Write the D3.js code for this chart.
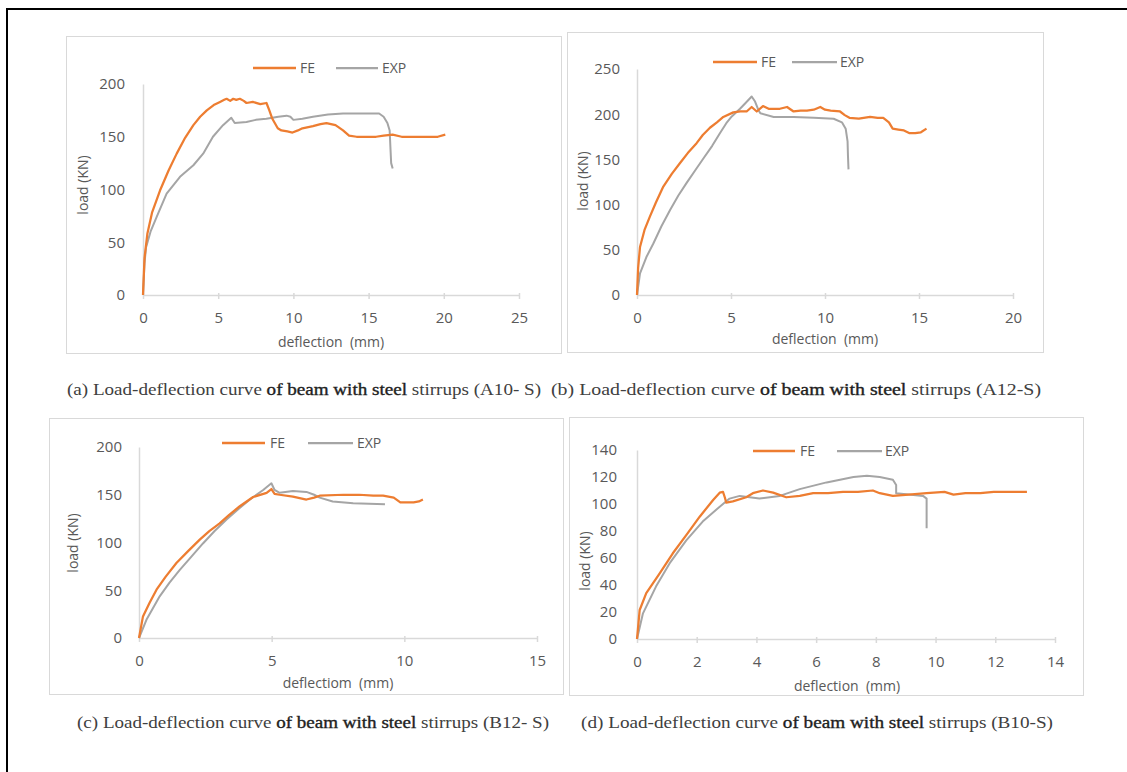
<!DOCTYPE html>
<html>
<head>
<meta charset="utf-8">
<script src="https://cdn.jsdelivr.net/npm/d3@7"></script>
<style>
  html, body { margin: 0; padding: 0; background: #fff; }
  svg { display: block; }
</style>
</head>
<body>
<svg id="fig" width="1127" height="772"></svg>
<script>
// Load-deflection data, [deflection (mm), load (kN)]
const feA = [[0,0],[0.1,35],[0.29,58],[0.6,78],[1.13,99],[1.7,118],[2.24,134],[2.8,149],[3.35,161],[3.8,169],[4.24,175],[4.7,180],[5.12,183],[5.4,185],[5.56,186],[5.8,184],[6.0,186],[6.2,185],[6.44,186],[6.7,184],[6.88,182],[7.3,183],[7.8,181],[8.21,182],[8.4,175],[8.6,167],[8.96,158],[9.2,156],[9.6,155],[9.94,154],[10.3,156],[10.6,158],[11.3,160],[11.8,162],[12.2,163],[12.8,161],[13.3,156],[13.7,151],[14.2,150],[14.8,150],[15.5,150],[16.0,151],[16.6,152],[17.2,150],[17.7,150],[18.8,150],[19.6,150],[20.1,152]];
const expA = [[0,0],[0.1,30],[0.2,45],[0.5,60],[0.91,74],[1.57,96],[2.46,112],[3.35,123],[4.0,134],[4.65,150],[5.32,161],[5.87,168],[6.1,163],[6.88,164],[7.5,166],[8.2,167],[9.0,169],[9.55,170],[9.8,169],[10.0,166],[10.6,167],[11.3,169],[12.3,171],[13.3,172],[14.5,172],[15.7,172],[16.0,169],[16.25,163],[16.4,156],[16.45,140],[16.5,125],[16.6,120]];

const feB = [[0,0],[0.06,30],[0.16,53],[0.4,72],[0.69,87],[1.0,102],[1.4,120],[1.85,134],[2.29,146],[2.7,157],[3.17,168],[3.5,177],[3.88,185],[4.25,191],[4.59,197],[5.12,202],[5.5,203],[5.83,203],[6.1,208],[6.37,203],[6.7,209],[7.0,206],[7.27,206],[7.6,206],[7.98,208],[8.33,203],[8.7,204],[9.04,204],[9.4,205],[9.75,208],[10.0,205],[10.3,204],[10.8,203],[11.05,199],[11.3,196],[11.8,195],[12.4,197],[12.8,196],[13.1,196],[13.4,191],[13.6,184],[13.9,183],[14.2,182],[14.5,179],[14.8,179],[15.1,180],[15.4,184]];
const expB = [[0,0],[0.16,24],[0.5,42],[0.87,57],[1.3,76],[1.76,94],[2.2,110],[2.64,124],[3.1,138],[3.53,151],[4.0,165],[4.41,179],[4.75,190],[5.04,197.5],[5.48,206],[5.8,213],[6.1,219.6],[6.28,214],[6.45,205],[6.56,201],[7.27,197],[8.33,197],[9.4,196],[10.46,195],[10.9,191],[11.1,184],[11.2,170],[11.22,155],[11.25,139]];

const feC = [[0,0],[0.15,22.6],[0.4,37],[0.66,50.6],[1.0,64],[1.41,78.5],[1.85,91],[2.29,103],[2.65,112],[3.04,120],[3.4,129],[3.8,138],[4.3,147.6],[4.81,152],[4.99,156],[5.11,151],[5.3,150],[5.8,148],[6.31,145],[6.6,147],[6.81,149],[7.7,150],[8.3,150],[8.83,149],[9.2,149],[9.6,147],[9.85,142],[10.35,142],[10.55,143],[10.7,145]];
const expC = [[0,0],[0.28,19],[0.78,43.6],[1.15,58],[1.53,71],[2.0,86],[2.41,99],[2.85,112],[3.3,124],[3.75,135],[4.18,145],[4.68,155],[4.99,162],[5.11,155],[5.3,152],[5.8,154],[6.31,153],[6.6,150],[6.81,147],[7.3,143],[8.07,141],[9.27,140]];

const feD = [[0,0],[0.09,21.5],[0.31,34],[0.76,48.6],[1.2,63.5],[1.65,77],[2.1,90.6],[2.55,103],[2.77,108.4],[2.88,109],[2.94,105],[2.99,101],[3.21,102],[3.66,105],[3.88,108],[4.22,110],[4.56,108.4],[5.0,105],[5.45,106],[5.9,108],[6.4,108],[6.9,109],[7.4,109],[7.9,110],[8.13,108],[8.57,106],[9.1,107],[9.7,108],[10.3,109],[10.6,107],[11.0,108],[11.5,108],[11.95,109],[12.5,109],[13.06,109]];
const expD = [[0,0],[0.2,19],[0.64,39],[1.09,56],[1.65,73],[2.2,87],[2.77,98],[3.1,104],[3.44,106],[4.1,104],[4.78,106],[5.45,111],[6.35,116],[7.25,120],[7.7,121],[8.13,120],[8.57,118],[8.68,114],[8.68,108],[9.1,107],[9.58,106],[9.7,104],[9.7,82]];

// Axis ticks
const ticksYA = [0, 50, 100, 150, 200];
const ticksXA = [0, 5, 10, 15, 20, 25];
const ticksYB = [0, 50, 100, 150, 200, 250];
const ticksXB = [0, 5, 10, 15, 20];
const ticksYC = [0, 50, 100, 150, 200];
const ticksXC = [0, 5, 10, 15];
const ticksYD = [0, 20, 40, 60, 80, 100, 120, 140];
const ticksXD = [0, 2, 4, 6, 8, 10, 12, 14];

// Labels
const seriesNames = ["FE", "EXP"];
const xTitles = ["deflection  (mm)", "deflection  (mm)", "deflectiom  (mm)", "deflection  (mm)"];
const yTitle = "load (KN)";
const captionHead = ["(a) Load-deflection curve ", "(b) Load-deflection curve ", "(c) Load-deflection curve ", "(d) Load-deflection curve "];
const captionMid = "of beam with steel";
const captionTail = [" stirrups (A10- S)", " stirrups (A12-S)", " stirrups (B12- S)", " stirrups (B10-S)"];

const FE_COLOR = "#ed7d31";
const EXP_COLOR = "#a5a5a5";
const AXIS_COLOR = "#d9d9d9";
const LABEL_COLOR = "#595959";

const svg = d3.select("#fig");

// outer frame
svg.append("rect")
  .attr("x", 7).attr("y", 9).attr("width", 1140).attr("height", 800)
  .attr("fill", "none").attr("stroke", "#000").attr("stroke-width", 2);

const panels = [
  { box: [66, 36, 495, 317], plot: [143, 519, 295, 84], xd: [0, 25], yd: [0, 200],
    xt: ticksXA, yt: ticksYA, fe: feA, exp: expA,
    legend: { fe: [253, 296], feT: 300, exp: [336, 378], expT: 382, y: 68 },
    xTitle: { x: 331, y: 342 }, yTitle: { x: 83, y: 185 }, cap: { x: 67, y: 389, w: 474 } },
  { box: [567, 32, 476, 320], plot: [637, 1013, 295, 69], xd: [0, 20], yd: [0, 250],
    xt: ticksXB, yt: ticksYB, fe: feB, exp: expB,
    legend: { fe: [713, 757], feT: 761, exp: [792, 837], expT: 840, y: 62 },
    xTitle: { x: 825, y: 339 }, yTitle: { x: 583, y: 181 }, cap: { x: 551, y: 389, w: 490 } },
  { box: [49, 418, 514, 276], plot: [139, 537, 638, 447], xd: [0, 15], yd: [0, 200],
    xt: ticksXC, yt: ticksYC, fe: feC, exp: expC,
    legend: { fe: [222, 265], feT: 270, exp: [308, 353], expT: 357, y: 443 },
    xTitle: { x: 338, y: 683 }, yTitle: { x: 73, y: 543 }, cap: { x: 77, y: 722, w: 472 } },
  { box: [569, 417, 514, 278], plot: [637, 1055, 639, 450], xd: [0, 14], yd: [0, 140],
    xt: ticksXD, yt: ticksYD, fe: feD, exp: expD,
    legend: { fe: [753, 795], feT: 800, exp: [837, 882], expT: 885, y: 451 },
    xTitle: { x: 847, y: 686 }, yTitle: { x: 585, y: 561 }, cap: { x: 581, y: 722, w: 472 } }
];

panels.forEach((p, i) => {
  const g = svg.append("g");

  // panel border
  g.append("rect")
    .attr("x", p.box[0] + 0.5).attr("y", p.box[1] + 0.5)
    .attr("width", p.box[2]).attr("height", p.box[3])
    .attr("fill", "#fff").attr("stroke", AXIS_COLOR).attr("stroke-width", 1);

  const x = d3.scaleLinear().domain(p.xd).range([p.plot[0], p.plot[1]]);
  const y = d3.scaleLinear().domain(p.yd).range([p.plot[2], p.plot[3]]);

  // x axis
  const xAxis = g.append("g")
    .attr("transform", `translate(0,${p.plot[2]})`)
    .call(d3.axisBottom(x).tickValues(p.xt).tickSizeInner(4).tickSizeOuter(0).tickPadding(13)
      .tickFormat(d3.format("d")));
  xAxis.select(".domain").attr("stroke", AXIS_COLOR).attr("stroke-width", 1.5);
  xAxis.selectAll(".tick line").attr("stroke", AXIS_COLOR).attr("stroke-width", 1.5).attr("y1", -2);
  xAxis.selectAll(".tick text")
    .attr("fill", LABEL_COLOR).attr("font-family", "'Open Sans', sans-serif").attr("font-size", 15);

  // y axis
  const yAxis = g.append("g")
    .attr("transform", `translate(${p.plot[0]},0)`)
    .call(d3.axisLeft(y).tickValues(p.yt).tickSize(0).tickPadding(i === 0 ? 18 : (i === 3 ? 20 : 17))
      .tickFormat(d3.format("d")));
  yAxis.select(".domain").attr("stroke", AXIS_COLOR).attr("stroke-width", 1.5);
  yAxis.selectAll(".tick text")
    .attr("fill", LABEL_COLOR).attr("font-family", "'Open Sans', sans-serif").attr("font-size", 15);

  // axis titles
  g.append("text")
    .attr("x", p.xTitle.x).attr("y", p.xTitle.y).attr("dy", "0.35em")
    .attr("text-anchor", "middle").attr("fill", LABEL_COLOR)
    .attr("font-family", "'Open Sans', sans-serif").attr("font-size", 14)
    .style("white-space", "pre").text(xTitles[i]);
  g.append("text")
    .attr("transform", `translate(${p.yTitle.x},${p.yTitle.y}) rotate(-90)`)
    .attr("dy", "0.35em").attr("text-anchor", "middle").attr("fill", LABEL_COLOR)
    .attr("font-family", "'Open Sans', sans-serif").attr("font-size", 14)
    .text(yTitle);

  // curves
  const line = d3.line().x(d => x(d[0])).y(d => y(d[1])).curve(d3.curveLinear);
  g.append("path").datum(p.exp)
    .attr("d", line).attr("fill", "none").attr("stroke", EXP_COLOR)
    .attr("stroke-width", 2).attr("stroke-linejoin", "round");
  g.append("path").datum(p.fe)
    .attr("d", line).attr("fill", "none").attr("stroke", FE_COLOR)
    .attr("stroke-width", 2.25).attr("stroke-linejoin", "round");

  // legend
  const L = p.legend;
  const legend = g.append("g").attr("font-family", "'Open Sans', sans-serif").attr("font-size", 14).attr("fill", LABEL_COLOR);
  legend.append("line").attr("x1", L.fe[0]).attr("x2", L.fe[1]).attr("y1", L.y).attr("y2", L.y)
    .attr("stroke", FE_COLOR).attr("stroke-width", 2.5);
  legend.append("text").attr("x", L.feT).attr("y", L.y).attr("dy", "0.35em").text(seriesNames[0]);
  legend.append("line").attr("x1", L.exp[0]).attr("x2", L.exp[1]).attr("y1", L.y).attr("y2", L.y)
    .attr("stroke", EXP_COLOR).attr("stroke-width", 2.25);
  legend.append("text").attr("x", L.expT).attr("y", L.y).attr("dy", "0.35em").text(seriesNames[1]);

  // caption under the panel
  const cap = svg.append("text")
    .attr("x", p.cap.x).attr("y", p.cap.y).attr("dy", "0.35em")
    .attr("font-family", "'Liberation Serif', 'DejaVu Serif', serif").attr("font-size", 16)
    .attr("fill", "#404040")
    .attr("textLength", p.cap.w).attr("lengthAdjust", "spacingAndGlyphs")
    .style("white-space", "pre");
  cap.append("tspan").text(captionHead[i]);
  cap.append("tspan").attr("fill", "#1e1e1e")
    .attr("stroke", "#1e1e1e").attr("stroke-width", 0.35).text(captionMid);
  cap.append("tspan").text(captionTail[i]);
});
</script>
</body>
</html>
